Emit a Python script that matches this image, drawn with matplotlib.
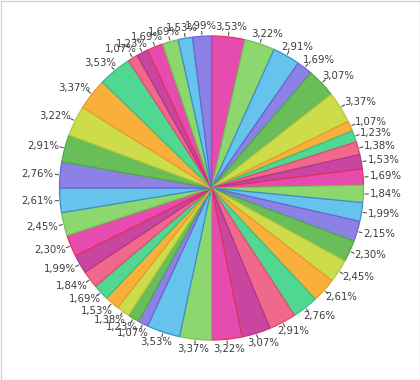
import matplotlib
matplotlib.use("Agg")
import matplotlib.pyplot as plt
import numpy as np
from matplotlib.patches import Rectangle

plt.rcParams.update({
    "font.family": "DejaVu Sans",
    "font.size": 7.3,
})

# slice shares in percent, clockwise from 12 o'clock
shares = [
    3.53, 3.22, 2.91, 1.69, 3.07, 3.37,
    1.07, 1.23, 1.38, 1.53, 1.69, 1.84, 1.99, 2.15, 2.30, 2.45, 2.61, 2.76,
    2.91, 3.07, 3.22, 3.37, 3.53,
    1.07, 1.23, 1.38, 1.53, 1.69, 1.84, 1.99,
    2.30, 2.45, 2.61, 2.76, 2.91, 3.22, 3.37, 3.53,
    1.07, 1.23, 1.69, 1.69, 1.53, 1.99,
]
labels = [f"{v:.2f}".replace(".", ",") + "%" for v in shares]

palette = ["#E64BAF", "#8CD76E", "#66C3EB", "#8C82E6", "#69BE5A",
           "#CDDC4B", "#FAAF3C", "#50D791", "#F0698C", "#C846A0"]
edges = ["#E8305A", "#72C05A", "#3A8FC8", "#6E64D2", "#55A848",
         "#B8C83A", "#E89A2A", "#3CC07C", "#E04C70", "#B0388A"]
fill = [palette[i % len(palette)] for i in range(len(shares))]
stroke = [edges[i % len(edges)] for i in range(len(shares))]

W, H = 420, 380
fig = plt.figure(figsize=(W / 100, H / 100), dpi=100)
fig.patch.set_facecolor("white")

R_PX = 146.5
cx, cy = 211.5, 380 - 188
side = 380
ax = fig.add_axes([(cx - side / 2) / W, (cy - side / 2) / H, side / W, side / H])
lim = side / 2 / R_PX
ax.set_xlim(-lim, lim)
ax.set_ylim(-lim, lim)
ax.set_aspect("equal")
ax.axis("off")

wedges, _ = ax.pie(shares, colors=fill, startangle=90, counterclock=False,
                   radius=1.0, normalize=True,
                   wedgeprops=dict(linewidth=0.9))
for w, ec in zip(wedges, stroke):
    w.set_edgecolor(ec)

px2pt = 72 / 100
for w, lab in zip(wedges, labels):
    ang = np.deg2rad((w.theta1 + w.theta2) / 2)
    c, s = np.cos(ang), np.sin(ang)
    ax.plot([1.008 * c, 1.035 * c], [1.008 * s, 1.035 * s],
            color="#555555", linewidth=0.8, solid_capstyle="butt")
    a = 1.0 + 5 / R_PX
    dx = c * 17.5 * px2pt
    dy = s * 5.0 * px2pt
    ax.annotate(lab, xy=(a * c, a * s), xytext=(dx, dy),
                textcoords="offset points", ha="center", va="center",
                color="#3C3C3C")

fig.add_artist(Rectangle((0.5 / W, 0.5 / H), (W - 1) / W, (H - 1) / H,
                         transform=fig.transFigure, fill=False,
                         edgecolor="#D2D2DA", linewidth=1.0))

fig.savefig("out.png", dpi=100)
